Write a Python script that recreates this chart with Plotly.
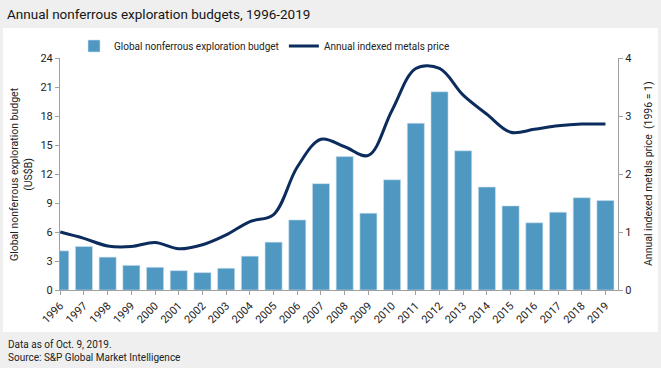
import plotly.graph_objects as go

years = [str(y) for y in range(1996, 2020)]
budget = [4.05, 4.5, 3.4, 2.55, 2.35, 2.0, 1.8, 2.25, 3.5, 4.95, 7.25, 11.0, 13.8, 7.95, 11.4,
          17.25, 20.5, 14.4, 10.65, 8.7, 6.95, 8.05, 9.55, 9.25]
price = [1.0, 0.89, 0.76, 0.75, 0.82, 0.71, 0.78, 0.95, 1.18, 1.3, 2.12, 2.6, 2.47, 2.32, 3.1,
         3.82, 3.82, 3.36, 3.03, 2.72, 2.77, 2.83, 2.86, 2.86]
left_ticks = [0, 3, 6, 9, 12, 15, 18, 21, 24]
right_ticks = [0, 1, 2, 3, 4]

W, H = 661, 368
L, R, T, B = 60, 43, 58, 78
pw, ph = W - L - R, H - T - B

FONT = "Roboto"
TXT = "#222222"

fig = go.Figure()
fig.add_trace(go.Bar(x=years, y=budget, name="Global nonferrous exploration budget",
                     marker=dict(color="#4f98c2", line=dict(width=0.6, color="#cfe0ee")),
                     width=0.72, yaxis="y"))
fig.add_trace(go.Scatter(x=years, y=price, name="Annual indexed metals price", mode="lines",
                         line=dict(color="#0b2c5c", width=3, shape="spline", smoothing=1.0),
                         yaxis="y2"))

def px_x(p):
    return (p - L) / pw

def px_y(p):
    return 1 - (p - T) / ph

fig.update_layout(
    width=W, height=H,
    margin=dict(l=L, r=R, t=T, b=B, pad=0, autoexpand=False),
    paper_bgcolor="#efefef",
    plot_bgcolor="rgba(0,0,0,0)",
    font=dict(family=FONT, size=11, color=TXT),
    showlegend=True,
    legend=dict(orientation="h", x=px_x(74), xanchor="left", y=px_y(46), yanchor="middle",
                bgcolor="rgba(0,0,0,0)", font=dict(size=10, color=TXT), itemwidth=30,
                traceorder="normal", tracegroupgap=0),
    xaxis=dict(type="category", range=[-0.01, 23.53], showline=True, linecolor="#a0a0a0",
               linewidth=1, ticks="outside", ticklen=4, tickcolor="#a0a0a0", tickangle=-45,
               showgrid=False, zeroline=False, tickfont=dict(size=11, color=TXT),
               automargin=False),
    yaxis=dict(range=[0, 24], tickvals=left_ticks, showline=True, linecolor="#a0a0a0",
               linewidth=1, ticks="outside", ticklen=4, tickcolor="#a0a0a0", showgrid=False,
               zeroline=False, tickfont=dict(size=11, color=TXT), automargin=False),
    yaxis2=dict(range=[0, 4], tickvals=right_ticks, overlaying="y", side="right", showline=True,
                linecolor="#a0a0a0", linewidth=1, ticks="outside", ticklen=4, tickcolor="#a0a0a0",
                showgrid=False, zeroline=False, tickfont=dict(size=11, color=TXT),
                automargin=False),
    shapes=[dict(type="rect", xref="paper", yref="paper", layer="below",
                 x0=px_x(3), x1=px_x(658), y0=px_y(332), y1=px_y(28),
                 fillcolor="white", line=dict(width=0))],
    annotations=[
        dict(text="Annual nonferrous exploration budgets, 1996-2019", xref="paper", yref="paper",
             x=px_x(5), y=px_y(14), xanchor="left", yanchor="middle", showarrow=False,
             font=dict(size=13.5, color="#151515", family=FONT)),
        dict(text="Data as of Oct. 9, 2019.<br>Source: S&P Global Market Intelligence",
             xref="paper", yref="paper", x=px_x(6), y=px_y(351), xanchor="left",
             yanchor="middle", align="left", showarrow=False,
             font=dict(size=10, color=TXT, family=FONT)),
        dict(text="Global nonferrous exploration budget<br>(US$B)", xref="paper", yref="paper",
             x=px_x(21), y=px_y(174), xanchor="center", yanchor="middle", textangle=-90,
             showarrow=False, font=dict(size=10.5, color=TXT, family=FONT)),
        dict(text="Annual indexed metals price  (1996 = 1)", xref="paper", yref="paper",
             x=px_x(648), y=px_y(174), xanchor="center", yanchor="middle", textangle=-90,
             showarrow=False, font=dict(size=10.5, color=TXT, family=FONT)),
    ],
)

fig.write_html("out.html", config={"displayModeBar": False},
               post_script="document.body.style.margin='0';")
